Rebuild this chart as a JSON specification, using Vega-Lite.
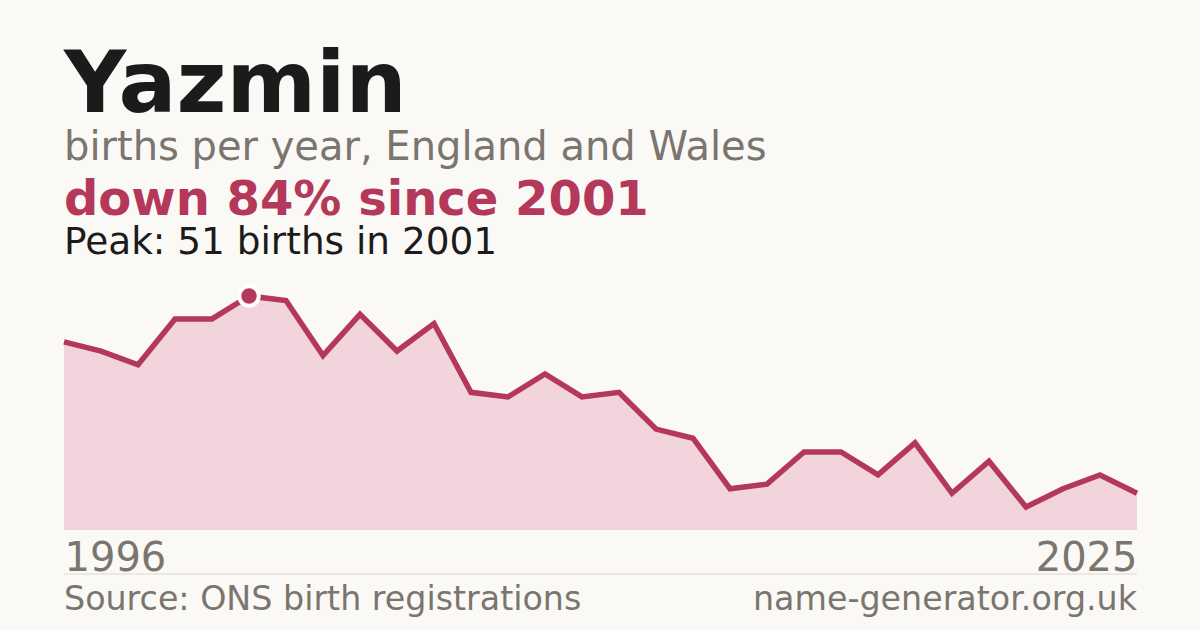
{
  "$schema": "https://vega.github.io/schema/vega-lite/v6.json",
  "width": 1073,
  "height": 234,
  "autosize": "none",
  "padding": {"left": 64, "top": 296, "right": 63, "bottom": 100},
  "background": "#faf9f5",
  "config": {
    "view": {"stroke": null},
    "font": "DejaVu Sans"
  },
  "datasets": {
    "births": [
      {"year": 1996, "births": 41},
      {"year": 1997, "births": 39},
      {"year": 1998, "births": 36},
      {"year": 1999, "births": 46},
      {"year": 2000, "births": 46},
      {"year": 2001, "births": 51},
      {"year": 2002, "births": 50},
      {"year": 2003, "births": 38},
      {"year": 2004, "births": 47},
      {"year": 2005, "births": 39},
      {"year": 2006, "births": 45},
      {"year": 2007, "births": 30},
      {"year": 2008, "births": 29},
      {"year": 2009, "births": 34},
      {"year": 2010, "births": 29},
      {"year": 2011, "births": 30},
      {"year": 2012, "births": 22},
      {"year": 2013, "births": 20},
      {"year": 2014, "births": 9},
      {"year": 2015, "births": 10},
      {"year": 2016, "births": 17},
      {"year": 2017, "births": 17},
      {"year": 2018, "births": 12},
      {"year": 2019, "births": 19},
      {"year": 2020, "births": 8},
      {"year": 2021, "births": 15},
      {"year": 2022, "births": 5},
      {"year": 2023, "births": 9},
      {"year": 2024, "births": 12},
      {"year": 2025, "births": 8}
    ],
    "labels": [
      {"name": "Yazmin", "sub": "births per year, England and Wales", "change": "down 84% since 2001", "peak": "Peak: 51 births in 2001", "source": "Source: ONS birth registrations", "site": "name-generator.org.uk"}
    ]
  },
  "layer": [
    {
      "data": {"name": "births"},
      "mark": {"type": "area", "color": "#f2d5dc"},
      "encoding": {
        "x": {
          "field": "year",
          "type": "quantitative",
          "scale": {"domain": [1996, 2025], "nice": false, "zero": false},
          "axis": {
            "values": [1996, 2025],
            "format": "d",
            "title": null,
            "domain": false,
            "ticks": false,
            "tickSize": 0,
            "grid": false,
            "labelFlush": true,
            "labelFontSize": 40,
            "labelColor": "#7a756e",
            "labelBaseline": "alphabetic",
            "labelPadding": 40
          }
        },
        "y": {
          "field": "births",
          "type": "quantitative",
          "scale": {"domain": [0, 51], "nice": false},
          "axis": null
        }
      }
    },
    {
      "data": {"name": "births"},
      "mark": {"type": "line", "color": "#b3385a", "strokeWidth": 5.5},
      "encoding": {
        "x": {"field": "year", "type": "quantitative"},
        "y": {"field": "births", "type": "quantitative"}
      }
    },
    {
      "data": {"name": "births"},
      "transform": [{"filter": "datum.year == 2001"}],
      "mark": {"type": "point", "shape": "circle", "filled": true, "size": 380, "color": "#b3385a", "stroke": "#ffffff", "strokeWidth": 4, "opacity": 1},
      "encoding": {
        "x": {"field": "year", "type": "quantitative"},
        "y": {"field": "births", "type": "quantitative"}
      }
    },
    {
      "data": {"name": "labels"},
      "mark": {"type": "text", "align": "left", "baseline": "alphabetic", "fontSize": 86, "fontWeight": "bold", "color": "#1b1b1b"},
      "encoding": {"x": {"datum": 1996}, "y": {"datum": 91.1}, "text": {"field": "name"}}
    },
    {
      "data": {"name": "labels"},
      "mark": {"type": "text", "align": "left", "baseline": "alphabetic", "fontSize": 40, "color": "#7a756e"},
      "encoding": {"x": {"datum": 1996}, "y": {"datum": 80.65}, "text": {"field": "sub"}}
    },
    {
      "data": {"name": "labels"},
      "mark": {"type": "text", "align": "left", "baseline": "alphabetic", "fontSize": 48, "fontWeight": "bold", "color": "#b3385a"},
      "encoding": {"x": {"datum": 1996}, "y": {"datum": 68.66}, "text": {"field": "change"}}
    },
    {
      "data": {"name": "labels"},
      "mark": {"type": "text", "align": "left", "baseline": "alphabetic", "fontSize": 37.4, "color": "#1b1b1b"},
      "encoding": {"x": {"datum": 1996}, "y": {"datum": 60.16}, "text": {"field": "peak"}}
    },
    {
      "data": {"name": "labels"},
      "mark": {"type": "rule", "color": "#dcd8d0", "strokeWidth": 1},
      "encoding": {"x": {"datum": 1996}, "x2": {"datum": 2025}, "y": {"datum": -9.59}}
    },
    {
      "data": {"name": "labels"},
      "mark": {"type": "text", "align": "left", "baseline": "alphabetic", "fontSize": 33.3, "color": "#7a756e"},
      "encoding": {"x": {"datum": 1996}, "y": {"datum": -17.44}, "text": {"field": "source"}}
    },
    {
      "data": {"name": "labels"},
      "mark": {"type": "text", "align": "right", "baseline": "alphabetic", "fontSize": 33.3, "color": "#7a756e"},
      "encoding": {"x": {"datum": 2025}, "y": {"datum": -17.44}, "text": {"field": "site"}}
    }
  ]
}
